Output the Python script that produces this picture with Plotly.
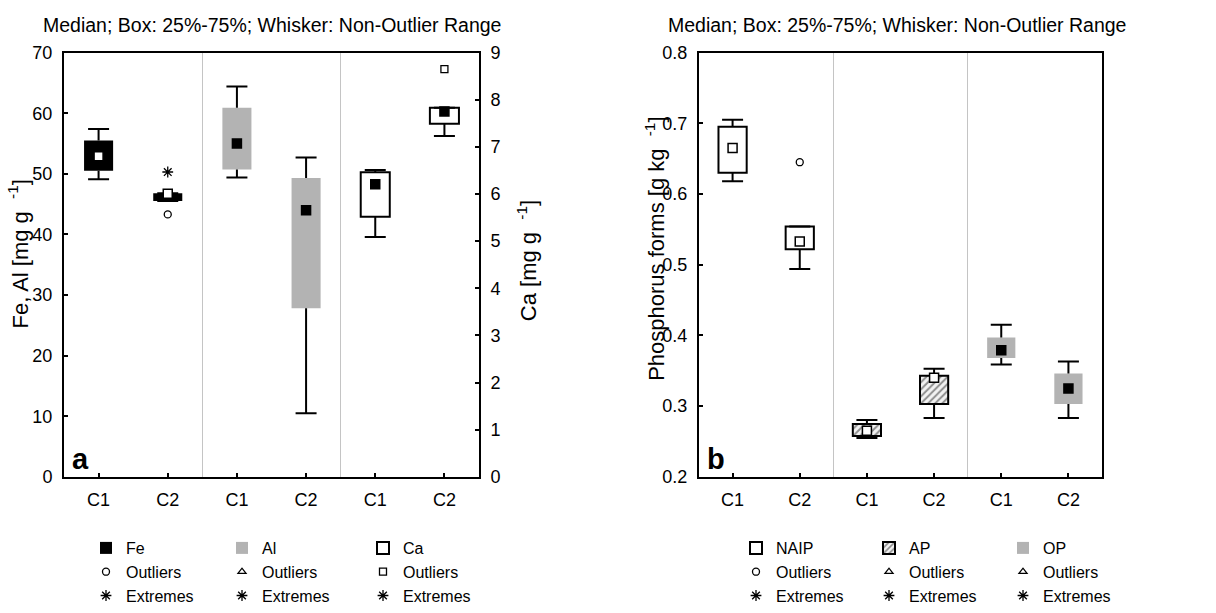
import plotly.graph_objects as go

W, H = 1216, 613
FONT = "Liberation Sans, Arial, sans-serif"

categories = ["C1", "C2"]
group_ticks = ["C1", "C2", "C1", "C2", "C1", "C2"]

# ---- panel a: Fe and Al [mg g-1] on the left axis, Ca [mg g-1] on the right axis
fe_q1 = [50.5, 45.5]
fe_med = [52.9, 46.7]
fe_q3 = [55.5, 46.8]
fe_lo = [49.1, 45.5]
fe_hi = [57.4, 46.8]
fe_outliers = [None, 43.3]
fe_extremes = [None, 50.3]

al_q1 = [50.7, 27.8]
al_med = [55.0, 44.0]
al_q3 = [60.9, 49.3]
al_lo = [49.4, 10.5]
al_hi = [64.4, 52.7]

ca_q1 = [5.52, 7.49]
ca_med = [6.21, 7.75]
ca_q3 = [6.46, 7.83]
ca_lo = [5.09, 7.23]
ca_hi = [6.51, 7.83]
ca_outliers = [None, 8.65]

# ---- panel b: phosphorus forms [g kg-1]
naip_q1 = [0.630, 0.522]
naip_med = [0.665, 0.533]
naip_q3 = [0.695, 0.554]
naip_lo = [0.618, 0.494]
naip_hi = [0.705, 0.554]
naip_outliers = [None, 0.645]

ap_q1 = [0.2576, 0.303]
ap_med = [0.265, 0.340]
ap_q3 = [0.2746, 0.343]
ap_lo = [0.255, 0.283]
ap_hi = [0.2805, 0.353]

op_q1 = [0.368, 0.303]
op_med = [0.379, 0.325]
op_q3 = [0.397, 0.346]
op_lo = [0.359, 0.283]
op_hi = [0.415, 0.363]

GRAY = "#b3b3b3"
BOX_W = 0.42


def px_x(p):
    return p / W


def px_y(p):
    return 1 - p / H


fig = go.Figure()


def add_series(group, q1, med, q3, lo, hi, xa, ya, legend, name, fill,
               edge=None, edge_w=0, pattern=None, med_fill="black",
               med_edge="black"):
    xs = [2 * group + i for i in range(len(categories))]
    marker = dict(color=fill, line=dict(color=edge or fill, width=edge_w))
    if pattern is not None:
        marker["pattern"] = pattern
    # box body: 25%-75%
    fig.add_trace(go.Bar(
        x=xs, base=q1, y=[b - a for a, b in zip(q1, q3)], width=BOX_W,
        marker=marker, xaxis=xa, yaxis=ya, name=name, legend=legend,
        hoverinfo="skip"))
    # whisker stems
    wx, wy = [], []
    for x, a, b, l, h in zip(xs, q1, q3, lo, hi):
        wx += [x, x, None, x, x, None]
        wy += [b, h, None, a, l, None]
    fig.add_trace(go.Scatter(
        x=wx, y=wy, mode="lines", line=dict(color="black", width=2),
        xaxis=xa, yaxis=ya, showlegend=False, hoverinfo="skip"))
    # whisker caps
    fig.add_trace(go.Scatter(
        x=xs + xs, y=list(hi) + list(lo), mode="markers",
        marker=dict(symbol="line-ew", size=15,
                    line=dict(color="black", width=2)),
        xaxis=xa, yaxis=ya, showlegend=False, hoverinfo="skip"))
    # median
    fig.add_trace(go.Scatter(
        x=xs, y=med, mode="markers",
        marker=dict(symbol="square", size=9, color=med_fill,
                    line=dict(color=med_edge, width=1.5)),
        xaxis=xa, yaxis=ya, showlegend=False, hoverinfo="skip"))
    return xs


def add_points(group, vals, xa, ya, legend, name, symbol, size=7):
    xs = [2 * group + i for i in range(len(categories))]
    fig.add_trace(go.Scatter(
        x=xs, y=vals, mode="markers", name=name, legend=legend,
        marker=dict(symbol=symbol, size=size, color="black",
                    line=dict(color="black", width=1.3)),
        xaxis=xa, yaxis=ya, hoverinfo="skip"))


none2 = [None, None]

# panel a
add_series(0, fe_q1, fe_med, fe_q3, fe_lo, fe_hi, "x", "y", "legend", "Fe",
           "black", med_fill="white", med_edge="black")
add_points(0, fe_outliers, "x", "y", "legend", "Outliers", "circle-open")
add_points(0, fe_extremes, "x", "y", "legend", "Extremes", "asterisk-open", 9)

add_series(1, al_q1, al_med, al_q3, al_lo, al_hi, "x", "y", "legend2", "Al",
           GRAY)
add_points(1, none2, "x", "y", "legend2", "Outliers", "triangle-up-open")
add_points(1, none2, "x", "y", "legend2", "Extremes", "asterisk-open", 9)

add_series(2, ca_q1, ca_med, ca_q3, ca_lo, ca_hi, "x", "y2", "legend3", "Ca",
           "white", edge="black", edge_w=2)
add_points(2, ca_outliers, "x", "y2", "legend3", "Outliers", "square-open")
add_points(2, none2, "x", "y2", "legend3", "Extremes", "asterisk-open", 9)

# panel b
add_series(0, naip_q1, naip_med, naip_q3, naip_lo, naip_hi, "x2", "y3",
           "legend4", "NAIP", "white", edge="black", edge_w=2,
           med_fill="white", med_edge="black")
add_points(0, naip_outliers, "x2", "y3", "legend4", "Outliers", "circle-open")
add_points(0, none2, "x2", "y3", "legend4", "Extremes", "asterisk-open", 9)

add_series(1, ap_q1, ap_med, ap_q3, ap_lo, ap_hi, "x2", "y3", "legend5", "AP",
           "white", edge="black", edge_w=2,
           pattern=dict(shape="/", fgcolor="#2a2a2a", bgcolor="#f2f2f2",
                        size=5, solidity=0.4),
           med_fill="white", med_edge="black")
add_points(1, none2, "x2", "y3", "legend5", "Outliers", "triangle-up-open")
add_points(1, none2, "x2", "y3", "legend5", "Extremes", "asterisk-open", 9)

add_series(2, op_q1, op_med, op_q3, op_lo, op_hi, "x2", "y3", "legend6", "OP",
           GRAY)
add_points(2, none2, "x2", "y3", "legend6", "Outliers", "triangle-up-open")
add_points(2, none2, "x2", "y3", "legend6", "Extremes", "asterisk-open", 9)

# ---- geometry (pixels)
LX0, LX1 = 64, 479
RX0, RX1 = 699, 1102
YT, YB = 45, 492.5

tick_font = dict(family=FONT, size=18, color="black")

xcommon = dict(
    range=[-0.5, 5.5], tickmode="array", tickvals=list(range(6)),
    ticktext=group_ticks, ticks="inside", ticklen=4, tickwidth=1.5,
    tickcolor="black", showline=True, linecolor="black", linewidth=2,
    mirror=True, showgrid=False, zeroline=False, tickfont=tick_font,
    ticklabelstandoff=6, fixedrange=True,
    minor=dict(tickmode="array", tickvals=[1.5, 3.5], ticks="",
               showgrid=True, gridcolor="#c4c4c4", gridwidth=1),
)
ycommon = dict(
    ticks="inside", ticklen=4, tickwidth=1.5, tickcolor="black",
    showline=True, linecolor="black", linewidth=2, showgrid=False,
    zeroline=False, tickfont=tick_font, fixedrange=True,
    ticklabelstandoff=6,
)

legend_common = dict(
    font=dict(family=FONT, size=16, color="black"),
    bgcolor="rgba(0,0,0,0)", borderwidth=0, orientation="v",
    xanchor="left", yanchor="top", traceorder="normal",
    itemclick=False, itemdoubleclick=False, tracegroupgap=0,
)
leg_y = px_y(550)
legend_x = [86, 222, 363, 736, 869, 1003]
legends = {}
for i, lx in enumerate(legend_x):
    key = "legend" if i == 0 else f"legend{i + 1}"
    legends[key] = dict(legend_common, x=px_x(lx), y=leg_y)

title_text = "Median; Box: 25%-75%; Whisker: Non-Outlier Range"
ann_font = dict(family=FONT, size=19.5, color="black")
axis_title_font = dict(family=FONT, size=22, color="black")
annotations = [
    dict(text=title_text, xref="paper", yref="paper",
         x=px_x((LX0 + LX1) / 2), y=px_y(16), showarrow=False,
         xanchor="center", yanchor="middle", font=ann_font),
    dict(text=title_text, xref="paper", yref="paper",
         x=px_x((RX0 + RX1) / 2 - 4), y=px_y(16), showarrow=False,
         xanchor="center", yanchor="middle", font=ann_font),
    dict(text="Fe, Al [mg g\u00a0\u00a0<sup>-1</sup>]", xref="paper",
         yref="paper", x=px_x(18), y=px_y(258), textangle=-90,
         showarrow=False, xanchor="center", yanchor="middle",
         font=axis_title_font),
    dict(text="Ca [mg g\u00a0\u00a0<sup>-1</sup>]", xref="paper",
         yref="paper", x=px_x(527), y=px_y(265), textangle=-90,
         showarrow=False, xanchor="center", yanchor="middle",
         font=axis_title_font),
    dict(text="Phosphorus forms [g kg\u00a0\u00a0<sup>-1</sup>]",
         xref="paper", yref="paper", x=px_x(655), y=px_y(252),
         textangle=-90, showarrow=False, xanchor="center",
         yanchor="middle", font=axis_title_font),
    dict(text="<b>a</b>", xref="x domain", yref="y domain", x=0.015,
         y=0.0, xanchor="left", yanchor="bottom", showarrow=False,
         font=dict(family=FONT, size=29, color="black")),
    dict(text="<b>b</b>", xref="x2 domain", yref="y3 domain", x=0.015,
         y=0.0, xanchor="left", yanchor="bottom", showarrow=False,
         font=dict(family=FONT, size=29, color="black")),
]

fig.update_layout(
    width=W, height=H, margin=dict(l=0, r=0, t=0, b=0),
    paper_bgcolor="white", plot_bgcolor="white",
    barmode="overlay", showlegend=True,
    xaxis=dict(xcommon, domain=[px_x(LX0), px_x(LX1)], anchor="y"),
    yaxis=dict(ycommon, domain=[px_y(YB), px_y(YT)], range=[0, 70],
               dtick=10, anchor="x"),
    yaxis2=dict(ycommon, range=[0, 9], dtick=1, overlaying="y",
                side="right", anchor="x"),
    xaxis2=dict(xcommon, domain=[px_x(RX0), px_x(RX1)], anchor="y3"),
    yaxis3=dict(ycommon, domain=[px_y(YB), px_y(YT)], range=[0.2, 0.8],
                dtick=0.1, tickformat=".1f", anchor="x2", mirror=True),
    annotations=annotations,
    **legends,
)

fig.write_html("out.html")
